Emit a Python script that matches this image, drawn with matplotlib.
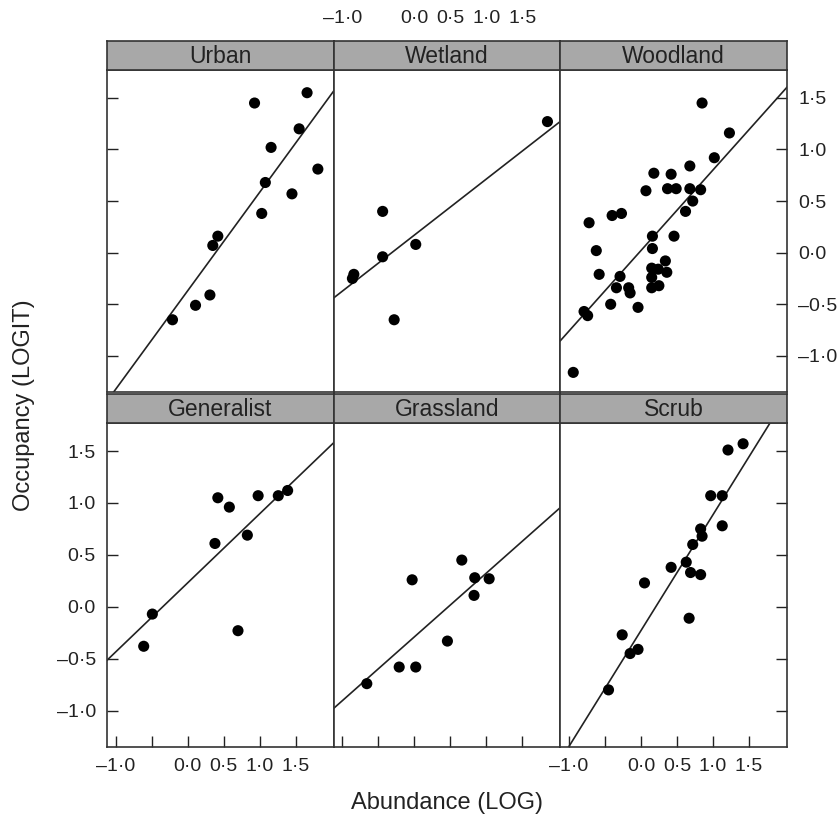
import matplotlib
matplotlib.use("Agg")
import matplotlib.pyplot as plt

plt.rcParams['font.family'] = ['Liberation Sans', 'DejaVu Sans']

# panel order: top row then bottom row
panel_names = ["Urban", "Wetland", "Woodland", "Generalist", "Grassland", "Scrub"]

urban_x = [0.93, 1.66, 1.55, 1.16, 1.81, 1.08, 1.45, 1.03, 0.42, 0.35, 0.31, 0.11, -0.21]
urban_y = [1.45, 1.55, 1.20, 1.02, 0.81, 0.68, 0.57, 0.38, 0.16, 0.07, -0.41, -0.51, -0.65]

wetland_x = [1.85, -0.44, 0.02, -0.44, -0.84, -0.86, -0.28]
wetland_y = [1.27, 0.40, 0.08, -0.04, -0.21, -0.25, -0.65]

woodland_x = [0.85, 1.23, 1.02, 0.68, 0.18, 0.42, 0.07, 0.37, 0.49, 0.68, 0.83, 0.72, 0.62,
              -0.40, -0.27, -0.72, 0.16, 0.46, 0.16, -0.62, 0.34, 0.15, 0.36, 0.24, -0.58,
              -0.29, 0.15, -0.34, -0.17, -0.15, 0.15, 0.25, -0.42, -0.04, -0.79, -0.74, -0.94]
woodland_y = [1.45, 1.16, 0.92, 0.84, 0.77, 0.76, 0.60, 0.62, 0.62, 0.62, 0.61, 0.50, 0.40,
              0.36, 0.38, 0.29, 0.16, 0.16, 0.04, 0.02, -0.08, -0.15, -0.19, -0.16, -0.21,
              -0.23, -0.24, -0.34, -0.34, -0.39, -0.34, -0.32, -0.50, -0.53, -0.57, -0.61, -1.16]

generalist_x = [0.42, 0.58, 0.98, 1.26, 1.39, 0.83, 0.38, -0.49, -0.61, 0.70]
generalist_y = [1.05, 0.96, 1.07, 1.07, 1.12, 0.69, 0.61, -0.07, -0.38, -0.23]

grassland_x = [0.66, -0.03, 0.84, 1.04, 0.83, 0.46, -0.21, 0.02, -0.66]
grassland_y = [0.45, 0.26, 0.28, 0.27, 0.11, -0.33, -0.58, -0.58, -0.74]

scrub_x = [1.42, 1.21, 0.97, 1.13, 1.13, 0.83, 0.85, 0.72, 0.63, 0.42, 0.69, 0.83,
           0.05, 0.67, -0.26, -0.15, -0.04, -0.45]
scrub_y = [1.57, 1.51, 1.07, 1.07, 0.78, 0.75, 0.68, 0.60, 0.43, 0.38, 0.33, 0.31,
           0.23, -0.11, -0.27, -0.45, -0.41, -0.80]

panel_x = [urban_x, wetland_x, woodland_x, generalist_x, grassland_x, scrub_x]
panel_y = [urban_y, wetland_y, woodland_y, generalist_y, grassland_y, scrub_y]

# fitted lines
line_intercepts = [-0.37, 0.17, 0.02, 0.23, -0.29, -0.23]
line_slopes = [0.954, 0.543, 0.78, 0.665, 0.614, 1.115]

x_ticks = [-1.0, -0.5, 0.0, 0.5, 1.0, 1.5]
x_tick_labels = ["\u20131\u00b70", "", "0\u00b70", "0\u00b75", "1\u00b70", "1\u00b75"]
y_ticks = [-1.0, -0.5, 0.0, 0.5, 1.0, 1.5]
y_tick_labels = ["\u20131\u00b70", "\u20130\u00b75", "0\u00b70", "0\u00b75", "1\u00b70", "1\u00b75"]

W, H = 839, 822
fig = plt.figure(figsize=(W / 100, H / 100), dpi=100)

col_left = [107, 333.7, 560.3]
col_w = 226.7
row_top = [70, 423]
row_h = [322, 324]
strip_h = 29
edge = '#333333'


def px_rect(x, y, w, h):
	"""
	pixel box (from top left) to figure fraction
	"""
	return [x / W, 1 - (y + h) / H, w / W, h / H]


for i, name in enumerate(panel_names):
	r, c = divmod(i, 3)
	ax = fig.add_axes(px_rect(col_left[c], row_top[r], col_w, row_h[r]))
	ax.set_xlim(-1.12, 2.03)
	ax.set_ylim(-1.35, 1.77)
	ax.scatter(panel_x[i], panel_y[i], s=64, c='black', edgecolors='none', zorder=3)
	ax.axline((0, line_intercepts[i]), slope=line_slopes[i], color='#222222', lw=1.2, zorder=2)
	ax.set_xticks(x_ticks, x_tick_labels)
	ax.set_yticks(y_ticks, y_tick_labels)
	ax.tick_params(direction='in', length=8, width=1, labelsize=14, pad=8, colors='#222222',
				   bottom=(r == 1), labelbottom=(r == 1 and c != 1),
				   left=(c == 0), labelleft=(c == 0 and r == 1),
				   right=(c == 2), labelright=(c == 2 and r == 0),
				   top=False, labeltop=False)
	for sp in ax.spines.values():
		sp.set_color(edge)
		sp.set_linewidth(1.2)

	sax = fig.add_axes(px_rect(col_left[c], row_top[r] - strip_h, col_w, strip_h))
	sax.set_facecolor('#a8a8a8')
	sax.text(0.5, 0.45, name, ha='center', va='center', fontsize=16.5, color='#222222',
			 transform=sax.transAxes)
	sax.set_yticks([])
	sax.set_xlim(-1.12, 2.03)
	if r == 0 and c == 1:
		sax.set_xticks(x_ticks, x_tick_labels)
		sax.tick_params(top=True, labeltop=True, bottom=False, labelbottom=False,
						length=0, pad=10, labelsize=14, colors='#222222')
	else:
		sax.set_xticks([])
	for sp in sax.spines.values():
		sp.set_color(edge)
		sp.set_linewidth(1.2)

fig.text(24 / W, 1 - 405 / H, "Occupancy (LOGIT)", rotation=90, ha='center', va='center',
		 fontsize=17, color='#222222')
fig.text(447 / W, 1 - 803 / H, "Abundance (LOG)", ha='center', va='center',
		 fontsize=17, color='#222222')

fig.savefig("out.png", dpi=100)
